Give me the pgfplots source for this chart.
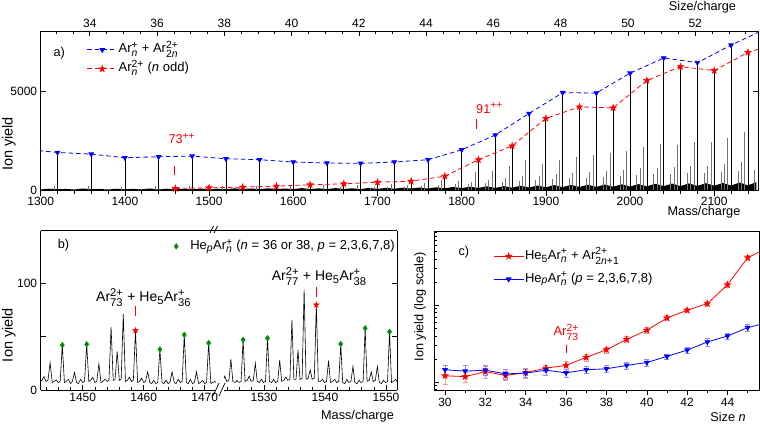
\documentclass[border=0pt]{standalone}
\usepackage{fontspec}
\setmainfont{Liberation Sans}
\usepackage{amsmath}
\usepackage{pgfplots}
\usepackage{pgfplotstable}
\pgfplotsset{compat=1.18}

\DeclareMathSizes{12}{12}{9.6}{7.5}
\DeclareMathSizes{12.7}{12.7}{10.2}{8}
\DeclareMathSizes{13}{13}{10.4}{8}
\DeclareMathSizes{14}{14}{11.2}{9}

\newcommand{\sub}[1]{$_{\text{#1}}$}
\newcommand{\spp}[1]{$^{\text{#1}}$}
\newcommand{\ssp}[2]{$_{\text{#1}}^{\text{#2}}$}
\newcommand{\fa}{\fontsize{12.7}{15}\selectfont}
\newcommand{\fl}{\fontsize{13}{15}\selectfont}
\newcommand{\fb}{\fontsize{14}{16}\selectfont}
\newcommand{\ft}{\fontsize{12}{14}\selectfont}

\definecolor{cblue}{RGB}{0,0,255}
\definecolor{cred}{RGB}{255,0,0}
\definecolor{cgreen}{RGB}{0,140,0}
\definecolor{lred}{RGB}{255,150,150}
\definecolor{lblue}{RGB}{140,140,255}

% filled five-point star
\pgfdeclareplotmark{fstar}{%
  \pgfpathmoveto{\pgfpointpolar{90}{\pgfplotmarksize}}%
  \pgfpathlineto{\pgfpointpolar{126}{0.4\pgfplotmarksize}}%
  \pgfpathlineto{\pgfpointpolar{162}{\pgfplotmarksize}}%
  \pgfpathlineto{\pgfpointpolar{198}{0.4\pgfplotmarksize}}%
  \pgfpathlineto{\pgfpointpolar{234}{\pgfplotmarksize}}%
  \pgfpathlineto{\pgfpointpolar{270}{0.4\pgfplotmarksize}}%
  \pgfpathlineto{\pgfpointpolar{306}{\pgfplotmarksize}}%
  \pgfpathlineto{\pgfpointpolar{342}{0.4\pgfplotmarksize}}%
  \pgfpathlineto{\pgfpointpolar{18}{\pgfplotmarksize}}%
  \pgfpathlineto{\pgfpointpolar{54}{0.4\pgfplotmarksize}}%
  \pgfpathclose\pgfusepathqfillstroke}

% ---- panel a: main peaks (blue: Ar_n^+ + Ar_2n^2+, red: Ar_n^2+ n odd)
\pgfplotstableread{
m y
1280 2066
1320 1900
1360 1817
1400 1633
1440 1683
1480 1717
1520 1583
1560 1533
1600 1417
1640 1367
1680 1350
1720 1417
1760 1533
1800 2033
1840 2783
1880 3867
1920 4917
1960 4900
2000 5900
2040 6667
2080 6433
2120 7317
2160 8117
}\blueA
\pgfplotstableread{
m y
1460 83
1500 117
1540 150
1580 200
1620 267
1660 317
1700 400
1740 450
1780 700
1820 1533
1860 2233
1900 3617
1940 4200
1980 4150
2020 5533
2060 6233
2100 6033
2140 6950
2180 7483
}\redA
% secondary (He-attached) peaks
\pgfplotstableread{
m y
1316 200
1336 60
1356 230
1376 70
1396 180
1416 80
1436 200
1456 90
1476 220
1496 100
1516 200
1536 110
1556 230
1576 120
1596 230
1616 130
1636 250
1656 150
1676 260
1696 180
1716 300
1736 250
1756 350
1776 500
1796 450
1816 900
1836 950
1856 1200
1876 1530
1896 1330
1916 1500
1936 1670
1956 1780
1976 1870
1996 1950
2016 2200
2036 2330
2056 2280
2076 2450
2096 2450
2116 2620
2136 2930
1692 120
1712 150
1732 150
1752 200
1772 250
1792 300
1812 400
1832 500
1852 600
1872 700
1892 700
1912 800
1932 850
1952 900
1972 950
1992 1000
2012 1100
2032 1100
2052 1150
2072 1200
2092 1200
2112 1300
2132 1400
1808 300
1828 350
1848 400
1868 450
1888 500
1908 550
1928 600
1948 600
1968 650
1988 700
2008 750
2028 800
2048 800
2068 850
2088 850
2108 900
2128 950
2148 1000
}\greyA
% noise floor
\pgfplotstableread{
m y
1300 30
1310 70
1320 40
1330 60
1340 30
1350 80
1360 40
1370 60
1380 30
1390 70
1400 40
1410 60
1420 40
1430 80
1440 30
1450 70
1460 40
1470 60
1480 40
1490 80
1500 40
1510 70
1520 40
1530 90
1540 50
1550 80
1560 50
1570 90
1580 50
1590 80
1600 50
1610 100
1620 50
1630 90
1640 50
1650 100
1660 60
1670 90
1680 50
1690 110
1700 60
1710 110
1720 70
1730 120
1740 80
1750 130
1760 80
1770 140
1780 90
1790 160
1800 100
1810 170
1820 110
1830 190
1840 110
1850 200
1860 120
1870 220
1880 130
1890 230
1900 140
1910 250
1920 150
1930 260
1940 160
1950 270
1960 160
1970 280
1980 170
1990 290
2000 180
2010 300
2020 190
2030 320
2040 200
2050 330
2060 200
2070 340
2080 210
2090 350
2100 220
2110 360
2120 230
2130 380
2140 240
2150 400
}\noiseA

% ---- panel b: spectrum segments
\pgfplotstableread{
m y
1443.00 8
1443.30 9
1443.65 12.5
1444.00 8
1444.30 9
1444.65 25.6
1445.00 7
1445.30 8
1445.65 9.5
1446.00 7
1446.30 8
1446.65 42
1447.00 7
1447.30 8
1447.65 10
1448.00 6
1448.30 8
1448.65 16.5
1449.00 7
1449.30 6
1449.65 10
1450.00 7
1450.30 8
1450.65 42.8
1451.00 8
1451.30 9
1451.65 12
1452.00 7
1452.30 8
1452.65 24.4
1453.00 7
1453.30 8
1453.65 10
1454.00 8
1454.30 9
1454.65 58.8
1455.00 9
1455.30 10
1455.65 36
1456.00 9
1456.30 10
1456.65 71
1457.00 8
1457.30 9
1457.65 12
1458.00 8
1458.30 9
1458.65 55.6
1459.00 7
1459.30 8
1459.65 11
1460.00 7
1460.30 8
1460.65 17
1461.00 7
1461.30 6
1461.65 9
1462.00 6
1462.30 7
1462.65 38
1463.00 7
1463.30 6
1463.65 9
1464.00 6
1464.30 7
1464.65 17
1465.00 7
1465.30 6
1465.65 10
1466.00 7
1466.30 8
1466.65 51.6
1467.00 7
1467.30 6
1467.65 10
1468.00 6
1468.30 7
1468.65 17
1469.00 6
1469.30 7
1469.65 9
1470.00 6
1470.30 7
1470.65 44
1471.00 6
1471.30 7
1471.65 8
1471.85 7
}\specL
\pgfplotstableread{
m y
1523.25 8
1523.58 13
1523.90 8
1524.25 9
1524.58 28.8
1524.90 8
1525.25 7
1525.58 9
1525.90 7
1526.25 8
1526.58 47
1526.90 8
1527.25 9
1527.58 13
1527.90 8
1528.25 9
1528.58 25
1528.90 8
1529.25 7
1529.58 10
1529.90 7
1530.25 8
1530.58 48.4
1530.90 8
1531.25 7
1531.58 10
1531.90 7
1532.25 8
1532.58 28
1532.90 8
1533.25 9
1533.58 12
1533.90 9
1534.25 10
1534.58 65.6
1534.90 10
1535.25 10
1535.58 37.5
1535.90 10
1536.25 11
1536.58 93.8
1536.90 10
1537.25 11
1537.58 18.8
1537.90 10
1538.25 11
1538.58 79.7
1538.90 8
1539.25 8
1539.58 10
1539.90 7
1540.25 8
1540.58 27.5
1540.90 7
1541.25 8
1541.58 10
1541.90 7
1542.25 8
1542.58 43
1542.90 7
1543.25 6
1543.58 10
1543.90 7
1544.25 8
1544.58 22
1544.90 7
1545.25 6
1545.58 9
1545.90 7
1546.25 8
1546.58 57.8
1546.90 8
1547.25 9
1547.58 17
1547.90 8
1548.25 9
1548.58 22
1548.90 7
1549.25 6
1549.58 9
1549.90 7
1550.25 8
1550.58 54.5
1550.90 7
1551.25 8
1551.58 10
1551.90 7
}\specR

% ---- panel c
\pgfplotstableread{
n y e
30 1.21 0.27
31 1.18 0.18
32 1.37 0.25
33 1.22 0.15
34 1.33 0.20
35 1.52 0.15
36 1.65 0.20
37 2.10 0.21
38 2.64 0.24
39 3.60 0.29
40 4.72 0.38
41 6.84 0.55
42 8.61 0.60
43 10.5 0.84
44 18.5 1.3
45 41.6 3.3
46 56 0
}\redC
\pgfplotstableread{
n y e
30 1.45 0.22
31 1.39 0.25
32 1.43 0.21
33 1.28 0.19
34 1.31 0.16
35 1.43 0.21
36 1.32 0.17
37 1.45 0.15
38 1.49 0.15
39 1.65 0.17
40 1.80 0.18
41 2.16 0.17
42 2.61 0.23
43 3.33 0.43
44 3.98 0.32
45 5.11 0.51
46 6.0 0
}\blueC

\pgfplotsset{
  every axis/.append style={
    scale only axis, anchor=south west,
    font=\fa,
    tick label style={font=\ft},
    scaled ticks=false,
    /pgf/number format/1000 sep={},
    /pgf/number format/assume math mode=true,
    axis line style={line width=0.7pt},
    tick style={line width=0.6pt, black},
    major tick length=5pt, minor tick length=3pt,
  },
  legimg/.style={legend image code/.code={%
    \draw[mark repeat=2,mark phase=2,##1] plot coordinates {(0pt,0pt) (15pt,0pt) (30pt,0pt)};}},
  legdot/.style={legend image code/.code={\draw[##1] plot coordinates {(0pt,0pt)};}},
}

\begin{document}
\begin{tikzpicture}[font=\fa]
\path[use as bounding box] (0,0) rectangle (760pt,425pt);

% ================= panel a =================
\begin{axis}[
  at={(40.7pt,234.3pt)}, width=717.3pt, height=159.7pt,
  xmin=1300, xmax=2152, ymin=-30, ymax=8030,
  xtick={1300,1400,...,2100}, minor xtick={1300,1320,...,2140},
  xtick pos=bottom, xtick align=outside,
  xticklabel style={yshift=2pt},
  ytick={0,5000},
  legimg,
  legend style={at={(axis description cs:0.0641,0.93)}, anchor=north west,
    draw=none, fill=none, inner sep=0pt, row sep=4pt, font=\fl,
    nodes={inner sep=1pt, text height=9.5pt, text depth=3.5pt}},
  legend cell align=left,
]
\addplot[fill=black, draw=none, forget plot] table[x=m,y=y] {\noiseA} \closedcycle;
\addplot[ycomb, black!55, line width=0.6pt, forget plot] table[x=m,y=y] {\greyA};
\addplot[ycomb, black, line width=0.7pt, forget plot] table[x=m,y=y] {\blueA};
\addplot[ycomb, black, line width=0.7pt, forget plot] table[x=m,y=y] {\redA};
\addplot[cblue, line width=0.8pt, dash pattern=on 4.5pt off 3pt, mark=triangle*,
  mark size=2.6pt, mark options={solid, rotate=180}] table[x=m,y=y] {\blueA};
\addlegendentry{Ar\ssp{\textit{n}}{+} + Ar\ssp{2\textit{n}}{2+}}
\addplot[cred, line width=0.8pt, dash pattern=on 4.5pt off 3pt, mark=fstar,
  mark size=3pt, mark options={solid}] table[x=m,y=y] {\redA};
\addlegendentry{Ar\ssp{\textit{n}}{2+} (\textit{n} odd)}
\draw[cred, line width=0.9pt] (axis cs:1459,785) -- (axis cs:1459,1200);
\draw[cred, line width=0.9pt] (axis cs:1818,3085) -- (axis cs:1818,3585);
\end{axis}

% top axis: size/charge = mass/39.95
\begin{axis}[
  at={(40.7pt,234.3pt)}, width=717.3pt, height=159.7pt,
  xmin=32.541, xmax=53.867, ymin=0, ymax=1,
  axis x line*=top, axis y line=none,
  xtick={34,36,...,52}, minor xtick={32.5,33,...,53.5},
]
\addplot[draw=none] coordinates {(40,0.5)};
\end{axis}

% ================= panel b (broken axis) =================
\begin{axis}[
  at={(40.7pt,35pt)}, width=175.3pt, height=159.3pt,
  xmin=1443.11, xmax=1471.85, ymin=0, ymax=149,
  axis y line*=left, axis x line*=box,
  xtick={1450,1460,1470}, minor xtick={1444,1446,...,1470}, xtick pos=bottom,
  ytick={0,50,100}, yticklabels={0,,100},
  legdot,
  legend style={at={(axis description cs:0.76,0.95)}, anchor=north west,
    draw=none, fill=none, inner sep=0pt, font=\fl,
    /tikz/every odd column/.append style={column sep=11pt},
    nodes={inner sep=1pt, text height=9.5pt, text depth=3.5pt}},
]
\addplot[black, line width=0.6pt, forget plot] table[x=m,y=y] {\specL};
\addplot[only marks, cgreen, mark=diamond*, mark size=2.8pt] coordinates {
  (1446.65,42) (1450.65,42.8) (1462.65,38) (1466.65,51.6) (1470.65,44)};
\addlegendentry{He\sub{\textit{p}}Ar\ssp{\textit{n}}{+} (\textit{n} = 36 or 38, \textit{p} = 2,3,6,7,8)}
\addplot[only marks, cred, mark=fstar, mark size=3pt, forget plot] coordinates {(1458.65,55.6)};
\draw[cred, line width=0.9pt] (axis cs:1458.65,69) -- (axis cs:1458.65,78.5);
\end{axis}

\begin{axis}[
  at={(224pt,35pt)}, width=173pt, height=159.3pt,
  xmin=1523.45, xmax=1551.8, ymin=0, ymax=149,
  axis y line*=right, axis x line*=box,
  xtick={1530,1540,1550}, minor xtick={1524,1526,...,1550}, xtick pos=bottom,
  ytick={0,50,100}, yticklabels={},
]
\addplot[black, line width=0.6pt] table[x=m,y=y] {\specR};
\addplot[only marks, cgreen, mark=diamond*, mark size=2.8pt] coordinates {
  (1526.58,47) (1530.58,48.4) (1542.58,43) (1546.58,57.8) (1550.58,54.5)};
\addplot[only marks, cred, mark=fstar, mark size=3pt] coordinates {(1538.58,79.7)};
\draw[cred, line width=0.9pt] (axis cs:1538.58,87) -- (axis cs:1538.58,96.3);
\end{axis}

% ================= panel c =================
\begin{axis}[
  at={(434.3pt,35pt)}, width=324.7pt, height=159pt,
  ymode=log, xmin=29.47, xmax=45.56, ymin=0.79, ymax=92.5,
  xtick={30,32,...,44}, minor xtick={30,...,45}, xtick pos=bottom, xtick align=outside,
  ytick={1,10}, minor ytick={0.8,0.9,2,3,4,5,6,7,8,9,20,30,40,50,60,70,80,90},
  ytick pos=left, yticklabels={},
  legimg,
  legend style={at={(axis description cs:0.181,0.89)}, anchor=north west,
    draw=none, fill=none, inner sep=0pt, row sep=8pt, font=\fl,
    nodes={inner sep=1pt, text height=9.5pt, text depth=3.5pt}},
  legend cell align=left,
]
\addplot[cred, line width=0.8pt, mark=fstar, mark size=3pt,
  error bars/.cd, y dir=both, y explicit,
  error bar style={lred, line width=0.6pt},
  error mark options={lred, rotate=90, mark size=2.5pt, line width=0.6pt}]
  table[x=n, y=y, y error=e] {\redC};
\addlegendentry{He\sub{5}Ar\ssp{\textit{n}}{+} + Ar\ssp{2\textit{n}+1}{2+}}
\addplot[cblue, line width=0.8pt, mark=triangle*, mark size=2.6pt, mark options={rotate=180},
  error bars/.cd, y dir=both, y explicit,
  error bar style={lblue, line width=0.6pt},
  error mark options={lblue, rotate=90, mark size=2.5pt, line width=0.6pt}]
  table[x=n, y=y, y error=e] {\blueC};
\addlegendentry{He\sub{\textit{p}}Ar\ssp{\textit{n}}{+} (\textit{p} = 2,3,6,7,8)}
\draw[cred, line width=0.9pt] (axis cs:36,2.41) -- (axis cs:36,3.07);
\end{axis}

% ---- break marks of panel b
\draw[line width=0.7pt] (216pt,194.3pt) -- (224pt,194.3pt);
\draw[line width=0.7pt] (210pt,192pt) -- (213.5pt,199pt);
\draw[line width=0.7pt] (214pt,192pt) -- (217.5pt,199pt);
\draw[line width=0.7pt] (213pt,29pt) -- (219pt,42pt);
\draw[line width=0.7pt] (219pt,29pt) -- (225pt,42pt);

% ---- texts
\node[anchor=base west] at (50pt,368pt) {a)};
\node[anchor=base west] at (54.3pt,176pt) {b)};
\node[anchor=base west] at (455pt,169pt) {c)};
\node[anchor=base west, text=cred] at (165pt,281pt) {73\spp{++}};
\node[anchor=base west, text=cred] at (472.7pt,311.7pt) {91\spp{++}};
\node[anchor=base west, font=\fb] at (92.7pt,123.3pt) {Ar\ssp{73}{2+} + He\sub{5}Ar\ssp{36}{+}};
\node[anchor=base west, font=\fb] at (268.3pt,144.3pt) {Ar\ssp{77}{2+} + He\sub{5}Ar\ssp{38}{+}};
\node[anchor=base west, text=cred, font=\fl] at (550pt,89pt) {Ar\ssp{73}{2+}};
% axis titles
\node at (704pt,213pt) {Mass/charge};
\node at (702.5pt,418pt) {Size/charge};
\node at (357.5pt,9pt) {Mass/charge};
\node at (728pt,8pt) {Size \textit{n}};
\node[rotate=90, font=\fontsize{14.5}{16}\selectfont] at (9pt,281pt) {Ion yield};
\node[rotate=90, font=\fontsize{14.5}{16}\selectfont] at (9pt,90pt) {Ion yield};
\node[rotate=90] at (420pt,118.3pt) {Ion yield (log scale)};
\end{tikzpicture}
\end{document}
